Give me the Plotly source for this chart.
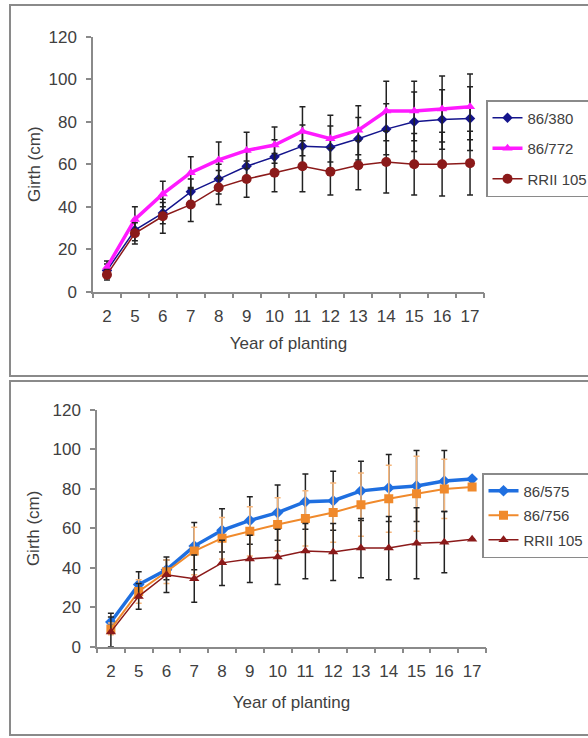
import plotly.graph_objects as go

years = ["2", "5", "6", "7", "8", "9", "10", "11", "12", "13", "14", "15", "16", "17"]

# Top panel
g380 = [10, 29, 37, 47, 53, 59, 63.5, 68.5, 68, 72, 76.5, 80, 81, 81.5]
g772 = [11.5, 34, 46, 56, 62, 66.5, 69, 75.5, 72, 76, 85, 85, 86, 87]
rrii_top = [8, 27.5, 35.5, 41, 49, 53, 56, 59, 56.5, 59.5, 61, 60, 60, 60.5]
err380 = [3, 5, 5, 6, 7, 7, 8, 10, 10, 10, 12, 14, 14, 15]
err772 = [3, 6, 6, 7.5, 8.5, 8.5, 8.5, 11.5, 11, 11.5, 14, 14, 15.5, 15.5]
err_rrii_top = [2.5, 5, 8, 8, 8, 8.5, 9, 12, 11, 11.5, 14.5, 14.5, 15, 15]

# Bottom panel
g575 = [12.5, 31.5, 39, 51, 59, 64, 68, 73.5, 74, 79, 80.5, 81.5, 84, 85]
g756 = [9, 28, 38, 48.5, 55, 58.5, 62, 65, 68, 72, 75, 77.5, 80, 81]
rrii_bot = [7.5, 25.5, 36.5, 34.5, 42.5, 44.5, 45.5, 48.5, 48, 50, 50, 52.5, 53, 54.5]
err575 = [4.5, 6.5, 5, 12, 11, 12, 14, 14, 15, 15, 17, 18, 15.5, None]
err756 = [3, 6, 6, 12, 10.5, 12.5, 13.5, 14, 15, 16, 17, 19, 15, None]
err_rrii_bot = [7.5, 6.5, 9, 12, 11.5, 12, 14, 14, 14.5, 15, 16, 18, 15.5, None]

W, H = 588, 738
def px_x(v): return v / W
def px_y(v): return 1 - v / H

FONT = "Liberation Sans, Arial, sans-serif"
TXT = "#404040"
AX = "#8a8a8a"

fig = go.Figure()

def add(x, y, err, name, color, symbol, msize, lw, errcolor, xa, ya, legend, group):
    fig.add_trace(go.Scatter(
        x=x, y=y, name=name, mode="lines+markers",
        line=dict(color=color, width=lw),
        marker=dict(color=color, symbol=symbol, size=msize),
        error_y=dict(type="data", array=err, visible=True, color=errcolor, thickness=1.5, width=3),
        xaxis=xa, yaxis=ya, legend=legend, legendgroup=group,
    ))

add(years, g380, err380, "86/380", "#14148c", "diamond", 8, 1.5, "#222222", "x", "y", "legend", "a")
add(years, g772, err772, "86/772", "#ff1aff", "triangle-up", 9, 3.5, "#222222", "x", "y", "legend", "b")
add(years, rrii_top, err_rrii_top, "RRII 105", "#8b1a1a", "circle", 10, 1.5, "#222222", "x", "y", "legend", "c")

add(years, g575, err575, "86/575", "#1f6fe0", "diamond", 9, 3.5, "#222222", "x2", "y2", "legend2", "d")
add(years, g756, err756, "86/756", "#f08a2c", "square", 9, 2, "#f5b57a", "x2", "y2", "legend2", "e")
add(years, rrii_bot, err_rrii_bot, "RRII 105", "#8b1a1a", "triangle-up", 9, 1.5, "#222222", "x2", "y2", "legend2", "f")

def xax(standoff):
    return dict(type="category", categoryorder="array", categoryarray=years,
                range=[-0.5, 13.5], showline=True, linecolor=AX, linewidth=1.5,
                ticks="outside", tickson="boundaries", ticklen=5, tickcolor=AX, tickwidth=1.5,
                showgrid=False, zeroline=False, tickangle=0, ticklabelstandoff=8, automargin=False,
                tickfont=dict(family=FONT, size=17, color=TXT),
                title=dict(text="Year of planting", font=dict(family=FONT, size=17, color=TXT),
                           standoff=standoff))

def yax(standoff):
    return dict(range=[0, 120], tickvals=[0, 20, 40, 60, 80, 100, 120], showline=True, linecolor=AX,
                linewidth=1.5, ticks="outside", ticklen=5, tickcolor=AX, tickwidth=1.5,
                showgrid=False, zeroline=False, ticklabelstandoff=6, automargin=False,
                tickfont=dict(family=FONT, size=17, color=TXT),
                title=dict(text="Girth (cm)", font=dict(family=FONT, size=17, color=TXT), standoff=standoff))

def leg(gap):
    return dict(font=dict(family=FONT, size=15, color=TXT), bgcolor="white",
                bordercolor="#8a8a8a", borderwidth=1.5, xanchor="left", yanchor="top",
                traceorder="grouped", tracegroupgap=gap, itemwidth=30)

fig.update_layout(
    width=W, height=H, margin=dict(l=0, r=0, t=0, b=0, autoexpand=False),
    paper_bgcolor="white", plot_bgcolor="white",
    xaxis=dict(xax(12), domain=[px_x(93), px_x(484)], anchor="y"),
    yaxis=dict(yax(4), domain=[px_y(291.7), px_y(36.7)], anchor="x"),
    xaxis2=dict(xax(16), domain=[px_x(97), px_x(486)], anchor="y2"),
    yaxis2=dict(yax(9), domain=[px_y(646.7), px_y(410)], anchor="x2"),
    legend=dict(leg(8), x=px_x(486), y=px_y(100)),
    legend2=dict(leg(2), x=px_x(482), y=px_y(473)),
    showlegend=True,
    shapes=[
        dict(type="rect", xref="paper", yref="paper", x0=px_x(10), x1=1.05, y0=px_y(376), y1=px_y(5),
             line=dict(color="#8a8a8a", width=2)),
        dict(type="rect", xref="paper", yref="paper", x0=px_x(10), x1=1.05, y0=px_y(735), y1=px_y(381),
             line=dict(color="#8a8a8a", width=2)),
    ],
)

fig.write_html("out.html", config={"displayModeBar": False},
               post_script="document.body.style.margin='0';document.body.style.overflow='hidden';")
